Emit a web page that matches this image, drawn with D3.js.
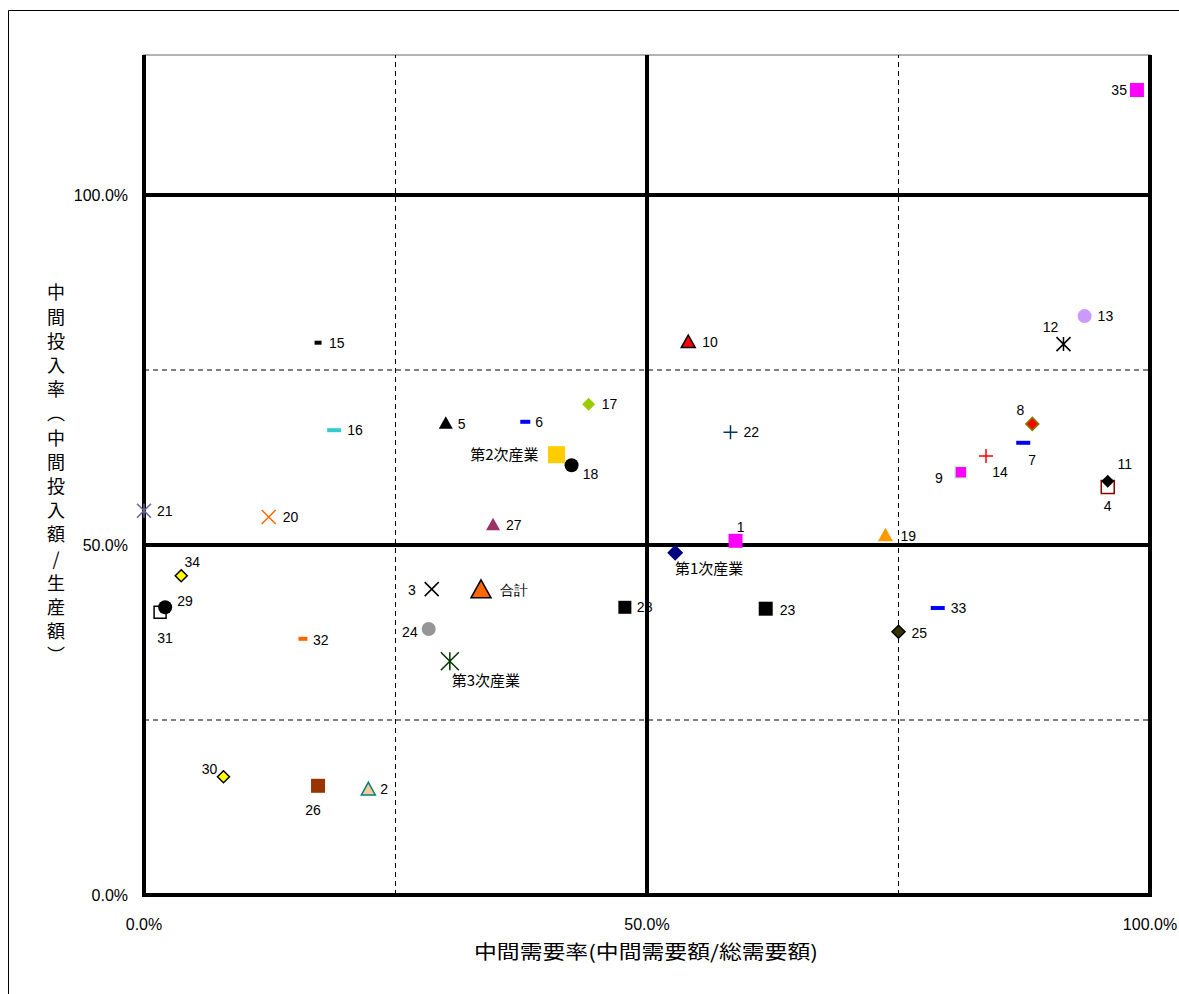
<!DOCTYPE html>
<html>
<head>
<meta charset="utf-8">
<script src="https://cdn.jsdelivr.net/npm/d3@7"></script>
<style>
  body { margin: 0; background: #fff; }
  text { font-family: "Liberation Sans", Arial, sans-serif; }
  .jp { font-family: "Noto Sans CJK JP", sans-serif; }
</style>
</head>
<body>
<svg id="chart"></svg>
<script>
// data
const names = ["1","2","3","4","5","6","7","8","9","10","12","13","14","15","16","17","18","19","20","21","22","23","28","24","25","26","27","31","29","30","32","33","34","35","11","第1次産業","第2次産業","第3次産業","合計"];
const xVals = [0.588,0.223,0.286,0.958,0.300,0.379,0.874,0.883,0.812,0.541,0.914,0.935,0.837,0.173,0.189,0.442,0.425,0.737,0.124,0.000,0.583,0.618,0.478,0.283,0.750,0.173,0.347,0.016,0.021,0.079,0.158,0.789,0.037,0.987,0.958,0.528,0.410,0.304,0.335];
const yVals = [0.506,0.151,0.437,0.583,0.674,0.676,0.646,0.673,0.604,0.790,0.787,0.827,0.627,0.789,0.664,0.701,0.614,0.514,0.540,0.549,0.661,0.409,0.411,0.380,0.376,0.156,0.529,0.404,0.411,0.169,0.366,0.410,0.456,1.150,0.591,0.489,0.629,0.334,0.436];
const xTicks = [0, 0.5, 1];
const yTicks = [0, 0.5, 1];
const majorLines = [0, 0.5, 1];
const minorLines = [0.25, 0.75];

// marker styles (shape, size, fill, stroke) per point
const shapes = ["square","triangle","x","square","triangle","dash","dash","diamond","square","triangle","star","circle","plus","dash","dash","diamond","circle","triangle","x","star","plus","square","square","circle","diamond","square","triangle","square","circle","diamond","dash","dash","diamond","square","diamond","diamond","square","star","triangle"];
const sizes = [7,7,7,6.5,7,5,7,6.5,6,7,7,7,7,3.5,7,6.5,7,7.5,7,7,7,7,6.5,7,6.5,7,7,6,7,6,4.5,7,6,7,6.5,8,8.5,9,10];
const fills = ["#ff00ff","#f9c89b","none","#ffffff","#000000","#0000ff","#0000ff","#ff0000","#ff00ff","#ff0000","none","#cc99ff","none","#000000","#33cccc","#99cc00","#000000","#ff9900","none","none","none","#000000","#000000","#969696","#333300","#993300","#993366","#ffffff","#000000","#ffff00","#ff6600","#0000ff","#ffff00","#ff00ff","#000000","#000080","#ffcc00","none","#ff6600"];
const strokes = ["none","#008080","#000000","#8b0000","none","none","none","#808000","#ccffcc","#000000","#000000","none","#ff0000","none","none","none","none","none","#ff6600","#666699","#003366","none","none","none","#000000","none","none","#000000","none","#000000","none","none","#000000","none","none","none","none","#003300","#000000"];
// label offsets [dx, dy, anchor]
const labelOffsets = [[5,-14,"middle"],[12,0,"start"],[-16,1,"end"],[0,19,"middle"],[12,1,"start"],[10,0,"start"],[9,17,"middle"],[-12,-14,"middle"],[-22,6,"middle"],[14,0,"start"],[-13,-17,"middle"],[13,0,"start"],[14,16,"middle"],[11,0,"start"],[13,0,"start"],[13,0,"start"],[19,9,"middle"],[15,1,"start"],[14,0,"start"],[13,0,"start"],[13,0,"start"],[14,1,"start"],[12,0,"start"],[-11,3,"end"],[13,1,"start"],[-5,24,"middle"],[13,0,"start"],[5,26,"middle"],[20,-6,"middle"],[-14,-8,"middle"],[10,1,"start"],[13,0,"start"],[11,-14,"middle"],[-10,0,"end"],[17,-17,"middle"],[34,16,"middle"],[-18,0,"end"],[36,20,"middle"],[19,0,"start"]];

const yTitle = ["中","間","投","入","率","︵","中","間","投","入","額","/","生","産","額","︶"];
const xTitle = "中間需要率(中間需要額/総需要額)";

const width = 1179, height = 994;
const svg = d3.select("#chart").attr("width", width).attr("height", height);

const x = d3.scaleLinear().domain([0, 1]).range([144, 1150]);
const y = d3.scaleLinear().domain([0, 1.2]).range([895, 55]);

// outer frame
svg.append("path").attr("d", `M8.5,${height}V10.5H${width}`).attr("fill", "none").attr("stroke", "#000").attr("stroke-width", 1);

// plot border
svg.append("rect").attr("x", x(0)).attr("y", y(1.2)).attr("width", x(1) - x(0)).attr("height", y(0) - y(1.2))
  .attr("fill", "none").attr("stroke", "#999").attr("stroke-width", 1.5);

// dashed gridlines
svg.append("g").selectAll("line").data(minorLines).join("line")
  .attr("x1", d => x(d)).attr("x2", d => x(d)).attr("y1", y(0)).attr("y2", y(1.2))
  .attr("stroke", "#000").attr("stroke-width", 1).attr("stroke-dasharray", "5,4");
svg.append("g").selectAll("line").data(minorLines).join("line")
  .attr("y1", d => y(d)).attr("y2", d => y(d)).attr("x1", x(0)).attr("x2", x(1))
  .attr("stroke", "#000").attr("stroke-width", 1).attr("stroke-dasharray", "5,4");

// thick lines
svg.append("g").selectAll("line").data(majorLines).join("line")
  .attr("x1", d => x(d)).attr("x2", d => x(d)).attr("y1", y(0) + 2).attr("y2", y(1.2))
  .attr("stroke", "#000").attr("stroke-width", 4);
svg.append("g").selectAll("line").data(majorLines).join("line")
  .attr("y1", d => y(d)).attr("y2", d => y(d)).attr("x1", x(0) - 2).attr("x2", x(1) + 2)
  .attr("stroke", "#000").attr("stroke-width", 4);

// tick labels
const pct = d3.format(".1%");
svg.append("g").selectAll("text").data(yTicks).join("text")
  .attr("x", 128).attr("y", d => y(d)).attr("dy", "0.35em")
  .attr("text-anchor", "end").style("font-size", "16px").text(d => pct(d));
svg.append("g").selectAll("text").data(xTicks).join("text")
  .attr("x", d => x(d)).attr("y", 924).attr("dy", "0.35em")
  .attr("text-anchor", "middle").style("font-size", "16px").text(d => pct(d));

// axis titles
svg.append("text").attr("class", "jp").attr("x", 646).attr("y", 952).attr("dy", "0.35em")
  .attr("text-anchor", "middle").attr("textLength", 344).attr("lengthAdjust", "spacingAndGlyphs")
  .style("font-size", "19px").text(xTitle);
svg.append("g").selectAll("text").data(yTitle).join("text")
  .attr("class", "jp").attr("x", 56).attr("y", (d, i) => 293 + i * 24.2).attr("dy", "0.35em")
  .attr("text-anchor", "middle").style("font-size", "18px").text(d => d);

// marker paths
const markerPath = (shape, s) => {
  switch (shape) {
    case "square": return `M${-s},${-s}H${s}V${s}H${-s}Z`;
    case "triangle": return `M0,${-s}L${s},${s * 0.8}H${-s}Z`;
    case "diamond": return `M0,${-s}L${s},0L0,${s}L${-s},0Z`;
    case "circle": return d3.arc()({innerRadius: 0, outerRadius: s, startAngle: 0, endAngle: 2 * Math.PI});
    case "x": return `M${-s},${-s}L${s},${s}M${-s},${s}L${s},${-s}`;
    case "plus": return `M${-s},0H${s}M0,${-s}V${s}`;
    case "star": return `M${-s},${-s}L${s},${s}M${-s},${s}L${s},${-s}M0,${-s}V${s}`;
    case "dash": return `M${-s},-2H${s}V2H${-s}Z`;
  }
};

const points = names.map((n, i) => ({name: n, x: xVals[i], y: yVals[i], shape: shapes[i], size: sizes[i],
  fill: fills[i], stroke: strokes[i], off: labelOffsets[i]}));

const node = svg.append("g");
node.selectAll("path").data(points).join("path")
  .attr("transform", d => `translate(${x(d.x)},${y(d.y)})`)
  .attr("d", d => markerPath(d.shape, d.size))
  .attr("fill", d => d.fill)
  .attr("stroke", d => d.stroke)
  .attr("stroke-width", 1.5);

node.selectAll("text").data(points).join("text")
  .attr("class", d => d.name.length > 2 ? "jp" : null)
  .attr("x", d => x(d.x) + d.off[0]).attr("y", d => y(d.y) + d.off[1]).attr("dy", "0.35em")
  .attr("text-anchor", d => d.off[2])
  .style("font-size", d => d.name.length > 2 ? "15px" : "14px")
  .text(d => d.name);
</script>
</body>
</html>
